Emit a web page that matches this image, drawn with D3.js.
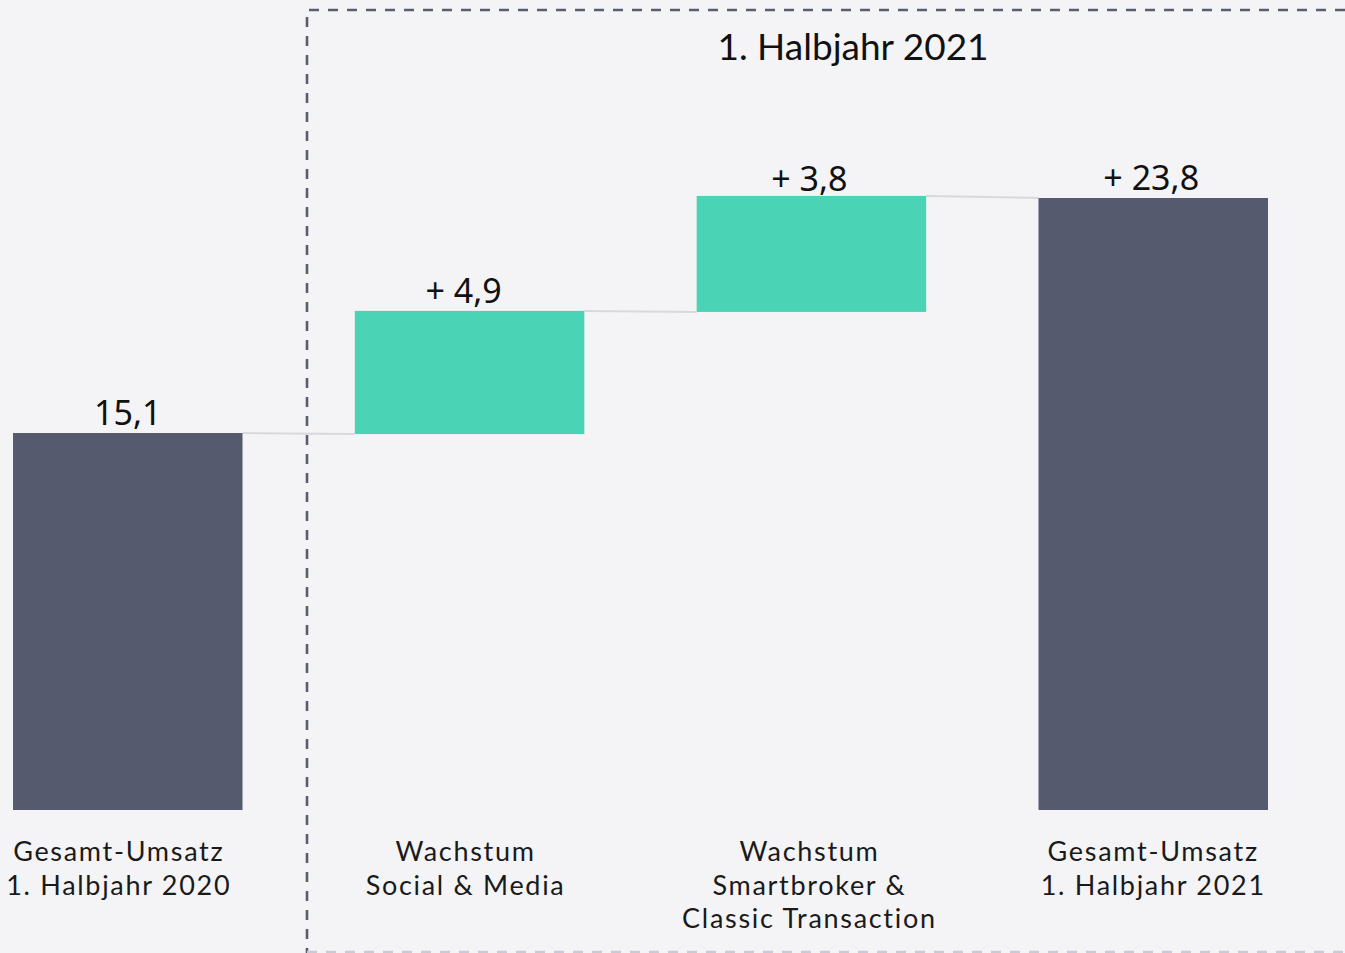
<!DOCTYPE html>
<html><head><meta charset="utf-8">
<script src="https://cdn.jsdelivr.net/npm/d3@7"></script>
<style>
html,body{margin:0;padding:0;background:#f4f4f6;}
svg{display:block;}
</style></head>
<body>
<svg id="chart" width="1345" height="953"></svg>
<script>
// ---- data ----
const categories = [
  ["Gesamt-Umsatz", "1. Halbjahr 2020"],
  ["Wachstum", "Social & Media"],
  ["Wachstum", "Smartbroker &", "Classic Transaction"],
  ["Gesamt-Umsatz", "1. Halbjahr 2021"]
];
const valueLabels = ["15,1", "+ 4,9", "+ 3,8", "+ 23,8"];
const barKinds = ["total", "delta", "delta", "total"];
// drawn bar extents (as they appear in the picture, in Mio. €)
const barStart = [0, 14.62, 19.37, 0];
const barEnd = [14.66, 19.41, 23.88, 23.8];
const title = "1. Halbjahr 2021";

// ---- layout ----
const W = 1345, H = 953;
const svg = d3.select("#chart");
svg.append("rect").attr("width", W).attr("height", H).attr("fill", "#f4f4f6");

const x = d3.scaleBand().domain(d3.range(categories.length))
  .range([13, 1268]).paddingInner(0.3286).paddingOuter(0);
const y = d3.scaleLinear().domain([0, 23.8]).range([810, 198]);

const colors = {total: "#565a6e", delta: "#4bd3b6"};

// connectors
for (let i = 0; i < categories.length - 1; i++) {
  const y1 = y(barEnd[i]);
  const y2 = (barKinds[i + 1] === "total") ? y(barEnd[i + 1]) : y(barStart[i + 1]);
  svg.append("line")
    .attr("x1", x(i) + x.bandwidth()).attr("x2", x(i + 1))
    .attr("y1", y1).attr("y2", y2)
    .attr("stroke", "#d9d9dd").attr("stroke-width", 2);
}

// dashed frame
svg.append("path")
  .attr("d", `M307,${H + 5} L307,10 L${W + 5},10`)
  .attr("fill", "none").attr("stroke", "#5a5d70").attr("stroke-width", 2.6)
  .attr("stroke-dasharray", "10,9");
svg.append("line").attr("x1", 307).attr("x2", W).attr("y1", 952).attr("y2", 952)
  .attr("stroke", "#c9cad3").attr("stroke-width", 2.5).attr("stroke-dasharray", "10,9");

// bars
svg.selectAll("rect.bar").data(categories).enter().append("rect")
  .attr("class", "bar")
  .attr("x", (d, i) => x(i))
  .attr("width", x.bandwidth())
  .attr("y", (d, i) => y(barEnd[i]))
  .attr("height", (d, i) => y(barStart[i]) - y(barEnd[i]))
  .attr("fill", (d, i) => colors[barKinds[i]]);

// value labels
svg.selectAll("text.val").data(valueLabels).enter().append("text")
  .attr("class", "val")
  .attr("x", (d, i) => x(i) + x.bandwidth() / 2 + (i === 0 ? 0 : (i === 1 ? -6 : -2)))
  .attr("y", (d, i) => y(barEnd[i]) - (i === 2 ? 5 : 8))
  .attr("text-anchor", "middle")
  .attr("font-family", "'Noto Sans', 'Open Sans', sans-serif")
  .attr("font-size", 34).attr("fill", "#111")
  .text(d => d);

// category labels
const catG = svg.selectAll("text.cat").data(categories).enter().append("text")
  .attr("class", "cat")
  .attr("font-family", "Lato, 'Open Sans', sans-serif")
  .attr("font-size", 27).attr("fill", "#1a1a1a")
  .attr("letter-spacing", 1.7)
  .attr("text-anchor", "middle");
catG.each(function (d, i) {
  const t = d3.select(this);
  d.forEach((line, k) => {
    t.append("tspan")
      .attr("x", x(i) + x.bandwidth() / 2 + (i === 0 ? -9 : (i === 1 ? -4 : (i === 2 ? -2 : 0))))
      .attr("y", 861 + k * 33.5)
      .text(line);
  });
});

// title
svg.append("text")
  .attr("x", 853).attr("y", 60)
  .attr("text-anchor", "middle")
  .attr("font-family", "Lato, 'Open Sans', sans-serif")
  .attr("font-size", 37).attr("fill", "#111")
  .text(title);
</script>
</body></html>
